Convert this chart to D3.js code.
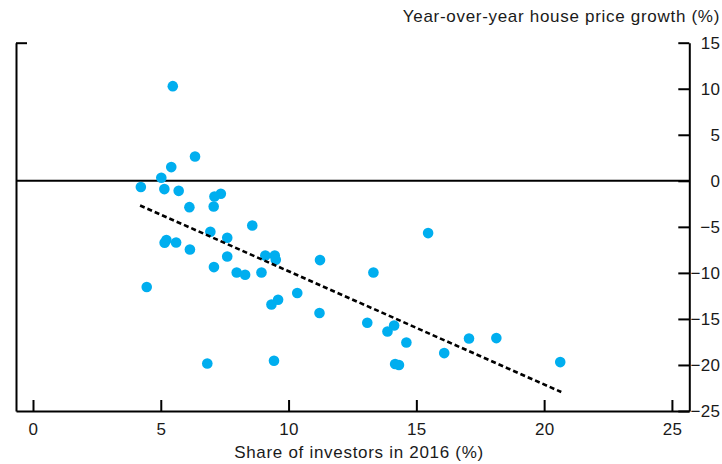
<!DOCTYPE html>
<html>
<head>
<meta charset="utf-8">
<script src="https://cdn.jsdelivr.net/npm/d3@7.9.0/dist/d3.min.js"></script>
<style>
  body { margin: 0; background: #fff; }
  svg text { font-family: "Liberation Sans", Arial, Helvetica, sans-serif; fill: #1a1a1a; }
</style>
</head>
<body>
<svg id="chart" width="722" height="464"></svg>
<script>
// share of investors in 2016 (%)
const investorShare = [5.47, 6.34, 5.41, 5.02, 4.22, 5.14, 5.70, 7.35, 7.10, 7.07, 6.12, 8.58,
  6.94, 7.60, 5.22, 5.15, 5.60, 6.14, 7.60, 9.09, 9.46, 9.50, 11.23, 13.32, 7.08, 7.97, 8.30,
  8.94, 10.34, 9.59, 9.33, 11.21, 13.08, 14.13, 13.87, 14.61, 17.06, 18.13, 16.09, 14.17, 14.32,
  20.63, 6.82, 9.43, 15.46, 4.45];
// year-over-year house price growth (%)
const priceGrowth = [10.28, 2.64, 1.49, 0.33, -0.68, -0.90, -1.09, -1.41, -1.70, -2.79, -2.86, -4.85,
  -5.54, -6.19, -6.44, -6.73, -6.70, -7.46, -8.22, -8.11, -8.11, -8.58, -8.61, -9.96, -9.37, -9.96, -10.21,
  -9.96, -12.19, -12.92, -13.43, -14.35, -15.42, -15.71, -16.36, -17.56, -17.12, -17.08, -18.71, -19.90, -20.01,
  -19.69, -19.84, -19.54, -5.68, -11.54];
// fitted trend line end points
const trendX = [4.19, 20.67];
const trendY = [-2.68, -22.94];

const xTicks = [0, 5, 10, 15, 20, 25];
const yTicks = [-25, -20, -15, -10, -5, 0, 5, 10, 15];

const svg = d3.select('#chart');

const x = d3.scaleLinear().domain([-0.665, 25.68]).range([16, 689.3]);
const y = d3.scaleLinear().domain([-25, 15]).range([411, 42.7]);

// zero line
svg.append('line')
  .attr('x1', x.range()[0]).attr('x2', x.range()[1])
  .attr('y1', y(0)).attr('y2', y(0))
  .attr('stroke', '#000').attr('stroke-width', 2);

// left axis: plain line with one tick at the top
const leftAxis = svg.append('g')
  .attr('transform', `translate(${x.range()[0]},0)`)
  .call(d3.axisRight(y).tickValues([15]).tickSizeInner(11).tickSizeOuter(0).tickFormat(''));

// right axis
const rightAxis = svg.append('g')
  .attr('transform', `translate(${x.range()[1]},0)`)
  .call(d3.axisRight(y).tickValues(yTicks).tickSizeInner(-11).tickSizeOuter(0).tickPadding(0));
rightAxis.selectAll('text')
  .attr('x', 31)
  .attr('text-anchor', 'end');

// bottom axis
const bottomAxis = svg.append('g')
  .attr('transform', `translate(0,${y.range()[0]})`)
  .call(d3.axisBottom(x).tickValues(xTicks).tickSizeInner(-11).tickSizeOuter(0).tickPadding(12));

[leftAxis, rightAxis, bottomAxis].forEach(g => {
  g.selectAll('path, line').attr('stroke', '#000').attr('stroke-width', 2);
  g.selectAll('text').style('font-size', '17px').style('letter-spacing', '0.3px').attr('fill', '#1a1a1a');
});

// dots
const points = investorShare.map((v, i) => ({ x: v, y: priceGrowth[i] }));
svg.append('g')
  .selectAll('circle')
  .data(points)
  .join('circle')
  .attr('cx', d => x(d.x))
  .attr('cy', d => y(d.y))
  .attr('r', 5.3)
  .attr('fill', '#00aeef');

// trend line
svg.append('line')
  .attr('x1', x(trendX[0])).attr('y1', y(trendY[0]))
  .attr('x2', x(trendX[1])).attr('y2', y(trendY[1]))
  .attr('stroke', '#000')
  .attr('stroke-width', 2.6)
  .attr('stroke-dasharray', '5,3');

// titles
svg.append('text')
  .attr('x', 720).attr('y', 22)
  .attr('text-anchor', 'end')
  .style('font-size', '17px')
  .style('letter-spacing', '0.7px')
  .text('Year-over-year house price growth (%)');

svg.append('text')
  .attr('x', 359).attr('y', 458)
  .attr('text-anchor', 'middle')
  .style('font-size', '17px')
  .style('letter-spacing', '0.7px')
  .text('Share of investors in 2016 (%)');
</script>
</body>
</html>
